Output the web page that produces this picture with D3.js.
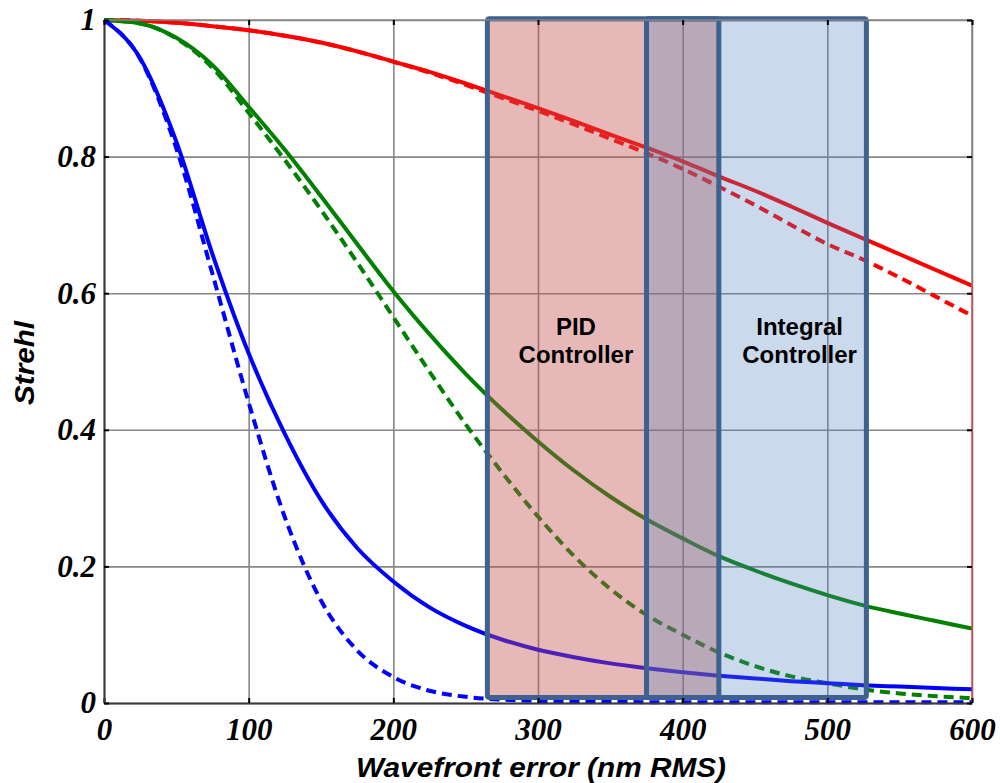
<!DOCTYPE html>
<html>
<head>
<meta charset="utf-8">
<script src="https://cdn.jsdelivr.net/npm/d3@7"></script>
<style>
  body { margin: 0; background: #fff; }
  svg { display: block; }
</style>
</head>
<body>
<svg id="graph" width="1000" height="783"></svg>
<script>
// wavefront error (nm RMS) sample points
const wavefront = [0, 25, 50, 75, 100, 125, 150, 175, 200, 225, 250, 275, 300,
                   325, 350, 375, 400, 425, 450, 475, 500, 525, 550, 575, 600];

const redSolid    = [1.000, 0.999, 0.996, 0.991, 0.985, 0.977, 0.967, 0.954, 0.939, 0.924, 0.907, 0.889, 0.871,
                     0.852, 0.832, 0.813, 0.793, 0.771, 0.750, 0.727, 0.703, 0.680, 0.657, 0.634, 0.611];
const redDashed   = [1.000, 0.999, 0.996, 0.991, 0.985, 0.977, 0.967, 0.954, 0.939, 0.923, 0.905, 0.886, 0.867,
                     0.847, 0.826, 0.805, 0.782, 0.756, 0.729, 0.700, 0.672, 0.649, 0.623, 0.595, 0.567];
const greenSolid  = [1.000, 0.995, 0.974, 0.934, 0.873, 0.810, 0.742, 0.672, 0.603, 0.540, 0.482, 0.430, 0.383,
                     0.340, 0.302, 0.269, 0.241, 0.215, 0.194, 0.175, 0.158, 0.143, 0.131, 0.120, 0.109];
const greenDashed = [1.000, 0.995, 0.973, 0.930, 0.864, 0.795, 0.722, 0.645, 0.565, 0.485, 0.408, 0.338, 0.273,
                     0.215, 0.167, 0.129, 0.100, 0.074, 0.054, 0.039, 0.029, 0.020, 0.014, 0.010, 0.007];
const blueSolid   = [1.000, 0.944, 0.822, 0.657, 0.512, 0.394, 0.297, 0.227, 0.178, 0.140, 0.113, 0.093, 0.078,
                     0.067, 0.058, 0.051, 0.045, 0.040, 0.036, 0.032, 0.029, 0.026, 0.024, 0.022, 0.020];
const blueDashed  = [1.000, 0.943, 0.812, 0.628, 0.440, 0.272, 0.150, 0.077, 0.038, 0.018, 0.009, 0.005, 0.003,
                     0.002, 0.002, 0.001, 0.001, 0.001, 0.001, 0.001, 0.001, 0.001, 0.001, 0.001, 0.001];

// controller operating ranges (nm RMS)
const regionNames  = ["PID\nController", "Integral\nController"];
const regionStarts = [265, 375];
const regionEnds   = [425, 527];

const xTicks = [0, 100, 200, 300, 400, 500, 600];
const yTicks = [0, 0.2, 0.4, 0.6, 0.8, 1];

const series = [
  {values: redSolid,    color: "#ff0000", dash: null},
  {values: redDashed,   color: "#ff0000", dash: "10,6"},
  {values: greenSolid,  color: "#008000", dash: null},
  {values: greenDashed, color: "#008000", dash: "10,6"},
  {values: blueSolid,   color: "#0000ff", dash: null},
  {values: blueDashed,  color: "#0000ff", dash: "10,6"}
];

const svg = d3.select("#graph");
const margin = {top: 20, right: 28, bottom: 80, left: 104};
const width = 1000 - margin.left - margin.right;
const height = 783 - margin.top - margin.bottom;

const x = d3.scaleLinear().domain([0, 600]).range([0, width]);
const y = d3.scaleLinear().domain([0, 1]).range([height, 0]);

const g = svg.append("g").attr("transform", `translate(${margin.left},${margin.top})`);

// gridlines
g.append("g")
  .attr("class", "grid")
  .attr("transform", `translate(0,${height})`)
  .call(d3.axisBottom(x).tickValues(xTicks).tickSize(-height).tickFormat(""))
  .call(s => s.select(".domain").remove());
g.append("g")
  .attr("class", "grid")
  .call(d3.axisLeft(y).tickValues(yTicks).tickSize(-width).tickFormat(""))
  .call(s => s.select(".domain").remove());
g.selectAll(".grid line").attr("stroke", "#878787").attr("stroke-width", 1.6);

// curves
const line = d3.line()
  .x((d, i) => x(wavefront[i]))
  .y(d => y(d))
  .curve(d3.curveMonotoneX);

g.selectAll("path.curve").data(series).join("path")
  .attr("class", "curve")
  .attr("fill", "none")
  .attr("stroke", d => d.color)
  .attr("stroke-width", 4)
  .attr("stroke-dasharray", d => d.dash)
  .attr("d", d => line(d.values));

// thin red drop at the end of the red curve
g.append("line")
  .attr("x1", x(wavefront[wavefront.length - 1])).attr("x2", x(wavefront[wavefront.length - 1]))
  .attr("y1", y(redSolid[redSolid.length - 1])).attr("y2", y(0))
  .attr("stroke", "#d33").attr("stroke-width", 1.2);

// controller boxes (translucent, over the curves)
const fills = ["rgba(192,80,77,0.40)", "rgba(79,129,189,0.30)"];
const boxTop = y(1.002), boxBottom = y(0.008);
g.selectAll("rect.region-fill").data(regionNames).join("rect")
  .attr("class", "region-fill")
  .attr("x", (d, i) => x(regionStarts[i]))
  .attr("width", (d, i) => x(regionEnds[i]) - x(regionStarts[i]))
  .attr("y", boxTop)
  .attr("height", boxBottom - boxTop)
  .attr("fill", (d, i) => fills[i]);
g.selectAll("rect.region-edge").data(regionNames).join("rect")
  .attr("class", "region-edge")
  .attr("x", (d, i) => x(regionStarts[i]))
  .attr("width", (d, i) => x(regionEnds[i]) - x(regionStarts[i]))
  .attr("y", boxTop)
  .attr("height", boxBottom - boxTop)
  .attr("rx", 2)
  .attr("fill", "none")
  .attr("stroke", "#3e6190")
  .attr("stroke-width", 5);

// region labels, centred on the part that does not overlap the other box
const labelCentres = [
  (x(regionStarts[0]) + x(regionStarts[1])) / 2 + 9,
  (x(regionEnds[0]) + x(regionEnds[1])) / 2 + 7
];
regionNames.forEach((name, i) => {
  const t = g.append("text")
    .attr("x", labelCentres[i])
    .attr("y", 315)
    .attr("text-anchor", "middle")
    .style("font-family", "'Liberation Sans', Arial, sans-serif")
    .style("font-weight", "bold")
    .style("font-size", "24px")
    .attr("fill", "#000");
  name.split("\n").forEach((part, k) => {
    t.append("tspan").attr("x", labelCentres[i]).attr("dy", k === 0 ? 0 : 28).text(part);
  });
});

// frame: grey top/right, dark left/bottom
g.append("line").attr("x1", 0).attr("x2", width).attr("y1", 0).attr("y2", 0)
  .attr("stroke", "#878787").attr("stroke-width", 1.6);
g.append("line").attr("x1", width).attr("x2", width).attr("y1", 0).attr("y2", y(redSolid[redSolid.length - 1]))
  .attr("stroke", "#878787").attr("stroke-width", 1.6);

// axes with inward ticks
const xAxis = g.append("g")
  .attr("transform", `translate(0,${height})`)
  .call(d3.axisBottom(x).tickValues(xTicks).tickSize(-5).tickSizeOuter(0).tickPadding(15).tickFormat(d => d));
const yAxis = g.append("g")
  .call(d3.axisLeft(y).tickValues(yTicks).tickSize(-5).tickSizeOuter(0).tickPadding(8).tickFormat(d => d));
g.append("g")
  .call(d3.axisTop(x).tickValues(xTicks).tickSize(-5).tickSizeOuter(0).tickFormat(""))
  .call(s => s.select(".domain").remove());
g.append("g")
  .attr("transform", `translate(${width},0)`)
  .call(d3.axisRight(y).tickValues(yTicks).tickSize(-5).tickSizeOuter(0).tickFormat(""))
  .call(s => s.select(".domain").remove());

[xAxis, yAxis].forEach(a => a.select(".domain").attr("stroke", "#3a3a3a").attr("stroke-width", 2));
g.selectAll(".tick line").filter(function() { return !this.closest(".grid"); })
  .attr("stroke", "#000").attr("stroke-width", 2);

g.selectAll("text").filter(function() { return this.closest(".tick"); })
  .style("font-family", "'Liberation Serif', 'Times New Roman', serif")
  .style("font-weight", "bold")
  .style("font-style", "italic")
  .style("font-size", "31px")
  .attr("fill", "#000");

// axis titles
svg.append("text")
  .attr("x", 541).attr("y", 777)
  .attr("text-anchor", "middle")
  .attr("textLength", 370).attr("lengthAdjust", "spacingAndGlyphs")
  .style("font-family", "'Liberation Sans', Arial, sans-serif")
  .style("font-weight", "bold").style("font-style", "italic")
  .style("font-size", "27px")
  .text("Wavefront error (nm RMS)");

svg.append("text")
  .attr("transform", "translate(34,363) rotate(-90)")
  .attr("text-anchor", "middle")
  .attr("textLength", 84).attr("lengthAdjust", "spacingAndGlyphs")
  .style("font-family", "'Liberation Sans', Arial, sans-serif")
  .style("font-weight", "bold").style("font-style", "italic")
  .style("font-size", "27px")
  .text("Strehl");
</script>
</body>
</html>
